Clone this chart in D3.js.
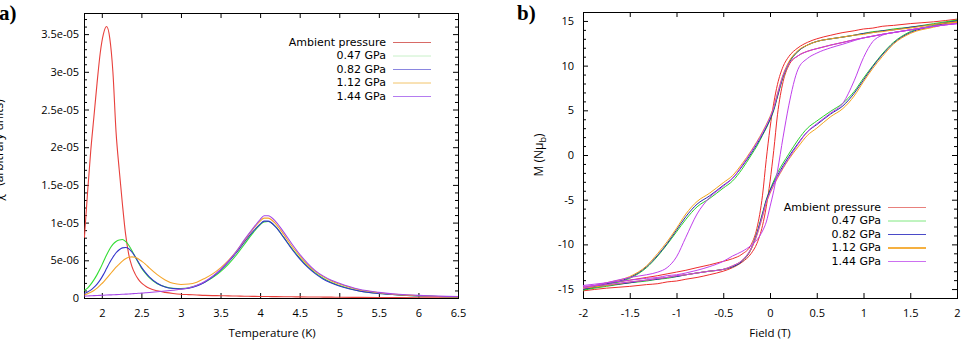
<!DOCTYPE html>
<html><head><meta charset="utf-8">
<script src="https://cdn.jsdelivr.net/npm/d3@7"></script>
<style>
body{margin:0;background:#fff}
svg{display:block}
text{font-family:"Open Sans",sans-serif;fill:#000}
</style>
</head><body>
<svg id="c" width="968" height="344"></svg>
<script>
// ---------- shared ----------
const seriesNames = ["Ambient pressure", "0.47 GPa", "0.82 GPa", "1.12 GPa", "1.44 GPa"];
const colorsA = ["#e8403c", "#33dd33", "#3333cc", "#f5a52a", "#a548e6"];
const colorsB = ["#ee2c2c", "#2ad02a", "#2a2aa8", "#f2a41c", "#c040ec"];
const legendColorsA = ["#d86a66", "#c8f0c8", "#8a86e0", "#f2c46a", "#b47cf0"];
const legendColorsB = ["#e8807c", "#80e880", "#4a4ac8", "#f5b040", "#cc70f0"];

// ---------- panel a : chi'' (units of 1e-6) vs temperature ----------
const tempK = [1.78, 1.82, 1.86, 1.90, 1.94, 1.98, 2.02, 2.06, 2.10, 2.14, 2.18, 2.22, 2.26, 2.30, 2.34, 2.38, 2.42, 2.46, 2.50, 2.55, 2.60, 2.70, 2.80, 2.90, 3.00, 3.10, 3.20, 3.30, 3.40, 3.50, 3.60, 3.70, 3.80, 3.90, 4.00, 4.05, 4.10, 4.20, 4.30, 4.40, 4.50, 4.60, 4.70, 4.80, 4.90, 5.00, 5.25, 5.50, 5.75, 6.00, 6.25, 6.50];
const chiAmbient = [8, 14, 19.5, 24, 28.5, 32.5, 35, 36, 34.5, 30, 22, 17, 12.5, 8.5, 5.8, 4.2, 3.2, 2.5, 2.0, 1.6, 1.3, 0.95, 0.75, 0.6, 0.5, 0.45, 0.4, 0.35, 0.32, 0.3, 0.28, 0.26, 0.24, 0.22, 0.2, 0.2, 0.19, 0.18, 0.17, 0.16, 0.15, 0.14, 0.13, 0.12, 0.11, 0.1, 0.08, 0.06, 0.05, 0.04, 0.03, 0.03];
const chi047 = [1.0, 1.3, 1.8, 2.4, 3.1, 3.9, 4.8, 5.7, 6.5, 7.1, 7.5, 7.7, 7.75, 7.5, 7.0, 6.3, 5.5, 4.7, 4.0, 3.3, 2.7, 1.9, 1.5, 1.3, 1.25, 1.35, 1.65, 2.1, 2.7, 3.5, 4.5, 5.7, 7.1, 8.5, 9.7, 10.1, 10.15, 9.4, 8.0, 6.6, 5.3, 4.2, 3.3, 2.6, 2.05, 1.65, 0.95, 0.6, 0.4, 0.28, 0.2, 0.15];
const chi082 = [0.6, 0.8, 1.05, 1.4, 1.85, 2.4, 3.1, 3.9, 4.7, 5.4, 6.0, 6.4, 6.65, 6.7, 6.55, 6.1, 5.5, 4.8, 4.1, 3.4, 2.8, 1.95, 1.45, 1.25, 1.2, 1.3, 1.6, 2.1, 2.8, 3.7, 4.8, 6.0, 7.4, 8.7, 9.8, 10.2, 10.2, 9.4, 8.0, 6.5, 5.2, 4.1, 3.2, 2.5, 2.0, 1.6, 0.95, 0.6, 0.4, 0.28, 0.2, 0.15];
const chi112 = [0.4, 0.55, 0.75, 1.0, 1.3, 1.7, 2.1, 2.6, 3.1, 3.6, 4.1, 4.5, 4.9, 5.2, 5.4, 5.45, 5.4, 5.2, 4.9, 4.5, 4.0, 3.1, 2.4, 1.95, 1.8, 1.85, 2.1, 2.6, 3.2, 4.0, 5.0, 6.2, 7.6, 9.0, 10.2, 10.6, 10.6, 9.8, 8.4, 6.9, 5.6, 4.4, 3.5, 2.8, 2.25, 1.85, 1.1, 0.7, 0.45, 0.3, 0.2, 0.15];
const chi144 = [0.25, 0.27, 0.29, 0.31, 0.33, 0.35, 0.37, 0.39, 0.41, 0.43, 0.45, 0.47, 0.49, 0.51, 0.53, 0.56, 0.59, 0.62, 0.65, 0.69, 0.73, 0.82, 0.92, 1.03, 1.15, 1.35, 1.7, 2.2, 2.9, 3.8, 4.9, 6.2, 7.7, 9.1, 10.4, 10.9, 10.9, 10.1, 8.7, 7.2, 5.8, 4.6, 3.6, 2.9, 2.35, 1.95, 1.15, 0.75, 0.5, 0.35, 0.25, 0.2];
const chiSeries = [chiAmbient, chi047, chi082, chi112, chi144];
const chiTickValues = [0, 5, 10, 15, 20, 25, 30, 35];
const chiTickLabels = ["0", "5e-06", "1e-05", "1.5e-05", "2e-05", "2.5e-05", "3e-05", "3.5e-05"];
const tempTicks = [2, 2.5, 3, 3.5, 4, 4.5, 5, 5.5, 6, 6.5];

// ---------- panel b : M (N muB) vs field (T) ----------
const fieldT = [-2, -1.75, -1.5, -1.32, -1.2, -1.1, -1.0, -0.9, -0.78, -0.65, -0.5, -0.4, -0.3, -0.2, -0.14, -0.08, -0.04, 0, 0.04, 0.08, 0.14, 0.2, 0.3, 0.4, 0.5, 0.65, 0.78, 0.9, 1.0, 1.1, 1.2, 1.32, 1.5, 1.75, 2];
const mAmbDown = [-14.8, -14.4, -14.0, -13.7, -13.5, -13.3, -13.1, -12.9, -12.6, -12.3, -11.9, -11.6, -11.1, -10.0, -8.2, -4.5, -0.5, 3.0, 5.8, 7.9, 9.9, 11.0, 12.0, 12.6, 13.0, 13.4, 13.7, 13.9, 14.1, 14.2, 14.4, 14.5, 14.7, 14.9, 15.2];
const mAmbUp = [-15.2, -14.9, -14.7, -14.5, -14.4, -14.2, -14.1, -13.9, -13.7, -13.4, -13.0, -12.6, -12.0, -11.0, -9.9, -7.9, -5.8, -3.0, 0.5, 4.5, 8.2, 10.0, 11.1, 11.6, 11.9, 12.3, 12.6, 12.9, 13.1, 13.3, 13.5, 13.7, 14.0, 14.4, 14.8];
const m047Down = [-15.1, -14.5, -13.8, -12.6, -11.3, -10.0, -8.6, -7.2, -5.8, -4.9, -3.7, -2.9, -1.6, 0.0, 1.0, 2.2, 3.0, 3.9, 5.0, 6.5, 8.7, 10.2, 11.6, 12.3, 12.7, 13.0, 13.2, 13.4, 13.6, 13.8, 13.9, 14.1, 14.3, 14.7, 15.1];
const m047Up = [-15.1, -14.7, -14.3, -14.1, -13.9, -13.8, -13.6, -13.4, -13.2, -13.0, -12.8, -12.5, -11.9, -10.4, -8.7, -6.5, -5.0, -3.9, -2.9, -2.0, -0.9, 0.1, 1.7, 3.0, 3.8, 4.9, 5.8, 7.1, 8.6, 10.0, 11.3, 12.6, 13.8, 14.5, 15.1];
const m082Down = [-15.0, -14.4, -13.7, -12.5, -11.2, -9.9, -8.4, -6.9, -5.5, -4.6, -3.4, -2.6, -1.3, 0.2, 1.2, 2.3, 3.1, 4.0, 5.1, 6.6, 8.8, 10.3, 11.6, 12.3, 12.7, 13.0, 13.2, 13.4, 13.6, 13.7, 13.9, 14.0, 14.3, 14.6, 15.0];
const m082Up = [-15.0, -14.6, -14.3, -14.0, -13.9, -13.7, -13.6, -13.4, -13.2, -13.0, -12.8, -12.5, -11.9, -10.5, -8.8, -6.6, -5.1, -4.0, -3.1, -2.3, -1.2, -0.2, 1.3, 2.6, 3.4, 4.6, 5.5, 6.9, 8.4, 9.9, 11.2, 12.5, 13.7, 14.4, 15.0];
const m112Down = [-14.9, -14.3, -13.6, -12.4, -11.0, -9.7, -8.2, -6.6, -5.2, -4.3, -3.1, -2.3, -1.0, 0.5, 1.5, 2.6, 3.4, 4.3, 5.4, 6.9, 9.0, 10.4, 11.7, 12.3, 12.7, 13.0, 13.2, 13.4, 13.5, 13.7, 13.8, 14.0, 14.2, 14.6, 14.9];
const m112Up = [-14.9, -14.6, -14.2, -14.0, -13.8, -13.7, -13.5, -13.4, -13.2, -13.0, -12.8, -12.4, -11.8, -10.5, -9.0, -6.9, -5.4, -4.3, -3.4, -2.6, -1.5, -0.5, 0.9, 2.2, 3.0, 4.3, 5.2, 6.6, 8.2, 9.7, 11.0, 12.4, 13.6, 14.3, 14.9];
const m144Down = [-14.9, -14.3, -13.7, -13.4, -13.1, -12.6, -11.4, -9.2, -6.6, -4.8, -3.5, -2.6, -1.2, 0.4, 1.4, 2.5, 3.3, 4.2, 5.3, 6.8, 8.9, 10.2, 11.1, 11.6, 11.9, 12.3, 12.6, 12.9, 13.1, 13.3, 13.5, 13.7, 14.0, 14.4, 14.7];
const m144Up = [-14.7, -14.5, -14.2, -14.0, -13.8, -13.7, -13.5, -13.4, -13.2, -13.0, -12.8, -12.4, -11.8, -10.4, -8.9, -6.8, -5.3, -4.2, -3.3, -2.5, -1.4, -0.4, 1.2, 2.6, 3.5, 4.7, 5.8, 8.3, 10.9, 12.7, 13.4, 13.7, 14.0, 14.4, 14.7];
const m144Minor = [-14.6, -14.3, -14.0, -13.8, -13.7, -13.5, -13.4, -13.2, -12.9, -12.5, -11.9, -11.3, -10.8, -10.1, -9.5, -8.5, -7.5, -5.8, -4.0, -1.8, 2.0, 5.5, 9.6, 10.8, 11.4, 12.0, 12.4, 12.8, 13.1, 13.3, 13.5, 13.7, 14.0, 14.4, 14.7];
const magnetSeries = [[mAmbDown, mAmbUp], [m047Down, m047Up], [m082Down, m082Up], [m112Down, m112Up], [m144Down, m144Up, m144Minor]];
const fieldTicks = [-2, -1.5, -1, -0.5, 0, 0.5, 1, 1.5, 2];
const magTicks = [-15, -10, -5, 0, 5, 10, 15];

// ---------- drawing ----------
const svg = d3.select("#c");

function frame(g, x, y, xMajor, yMajor, yMinor, xFmt, yFmt, yPad) {
  const [x0, x1] = x.range(), [y1, y0] = y.range();
  const w = x1 - x0, h = y1 - y0;
  g.append("g").attr("transform", `translate(0,${y1})`)
    .call(d3.axisBottom(x).tickValues(xMajor).tickFormat(xFmt).tickSizeInner(-5).tickSizeOuter(0).tickPadding(11));
  g.append("g").attr("transform", `translate(0,${y0})`)
    .call(d3.axisTop(x).tickValues(xMajor).tickFormat("").tickSizeInner(-5).tickSizeOuter(0));
  g.append("g").attr("transform", `translate(${x0},0)`)
    .call(d3.axisLeft(y).tickValues(yMajor).tickFormat(yFmt).tickSizeInner(-5).tickSizeOuter(0).tickPadding(yPad));
  g.append("g").attr("transform", `translate(${x0},0)`)
    .call(d3.axisLeft(y).tickValues(yMinor).tickFormat("").tickSizeInner(-3).tickSizeOuter(0));
  g.append("g").attr("transform", `translate(${x1},0)`)
    .call(d3.axisRight(y).tickValues(yMajor).tickFormat("").tickSizeInner(-5).tickSizeOuter(0));
  g.append("g").attr("transform", `translate(${x1},0)`)
    .call(d3.axisRight(y).tickValues(yMinor).tickFormat("").tickSizeInner(-3).tickSizeOuter(0));
  g.selectAll(".domain").remove();
  g.selectAll(".tick text").attr("font-size", 11).attr("font-family", "'Open Sans',sans-serif");
  g.append("rect").attr("x", x0 + 0.5).attr("y", y0 + 0.5).attr("width", w).attr("height", h)
    .attr("fill", "none").attr("stroke", "#000").attr("stroke-width", 1);
}

function legend(g, xr, yTop, colors, widths) {
  seriesNames.forEach((n, i) => {
    const yy = yTop + i * 13.5;
    g.append("text").attr("x", xr).attr("y", yy).attr("dy", "0.35em")
      .attr("text-anchor", "end").attr("font-size", 11)
      .style("font-family", "'DejaVu Sans',sans-serif").text(n);
    g.append("line").attr("x1", xr + 7).attr("x2", xr + 45).attr("y1", yy + 0.5).attr("y2", yy + 0.5)
      .attr("stroke", colors[i]).attr("stroke-width", widths[i]);
  });
}

// panel a
{
  const x = d3.scaleLinear().domain([1.775, 6.5]).range([84, 458]);
  const y = d3.scaleLinear().domain([0, 37.8]).range([298, 13]);
  const g = svg.append("g");
  const minorY = d3.range(0, 38, 1).filter(v => v % 5 !== 0);
  frame(g, x, y, tempTicks, chiTickValues, minorY, d => String(d), (d, i) => chiTickLabels[i], 5);
  g.append("clipPath").attr("id", "ca").append("rect").attr("x", 84).attr("y", 13).attr("width", 374).attr("height", 285);
  const line = d3.line().x((d, i) => x(tempK[i])).y(d => y(d)).curve(d3.curveMonotoneX);
  chiSeries.forEach((s, i) => {
    g.append("path").attr("d", line(s)).attr("fill", "none").attr("stroke", colorsA[i])
      .attr("stroke-width", 1.1).attr("clip-path", "url(#ca)");
  });
  legend(g, 386, 42, legendColorsA, [1, 1, 1, 1, 1]);
  g.append("text").attr("x", 272).attr("y", 337).attr("text-anchor", "middle").attr("font-size", 11.5).text("Temperature (K)");
  g.append("text").attr("transform", "translate(3,150) rotate(-90)").attr("text-anchor", "middle")
    .attr("font-size", 12).text("χ'' (arbitrary units)");
  g.append("text").attr("x", -1).attr("y", 20).attr("font-weight", "bold").attr("font-size", 21)
    .style("font-family", "'Liberation Serif',serif").text("a)");
}

// panel b
{
  const x = d3.scaleLinear().domain([-2, 2]).range([583, 957]);
  const y = d3.scaleLinear().domain([-16, 16]).range([298, 12]);
  const g = svg.append("g");
  const minorY = d3.range(-16, 17, 1).filter(v => v % 5 !== 0);
  frame(g, x, y, fieldTicks, magTicks, minorY, d => String(d), d => String(d), 9);
  g.append("clipPath").attr("id", "cb").append("rect").attr("x", 583).attr("y", 12).attr("width", 374).attr("height", 286);
  const line = d3.line().x((d, i) => x(fieldT[i])).y(d => y(d)).curve(d3.curveMonotoneX);
  magnetSeries.forEach((branches, i) => {
    branches.forEach(b => {
      g.append("path").attr("d", line(b)).attr("fill", "none").attr("stroke", colorsB[i])
        .attr("stroke-width", 1).attr("clip-path", "url(#cb)");
    });
  });
  legend(g, 881, 207, legendColorsB, [1, 1, 1, 2, 1]);
  g.append("text").attr("x", 770).attr("y", 337).attr("text-anchor", "middle").attr("font-size", 11.5).text("Field (T)");
  const yl = g.append("text").attr("transform", "translate(543,155) rotate(-90)").attr("text-anchor", "middle").attr("font-size", 12);
  yl.append("tspan").text("M (Nμ");
  yl.append("tspan").attr("font-size", 9).attr("dy", 3).text("b");
  yl.append("tspan").attr("dy", -3).text(")");
  g.append("text").attr("x", 517).attr("y", 20).attr("font-weight", "bold").attr("font-size", 21)
    .style("font-family", "'Liberation Serif',serif").text("b)");
}
</script>
</body></html>
